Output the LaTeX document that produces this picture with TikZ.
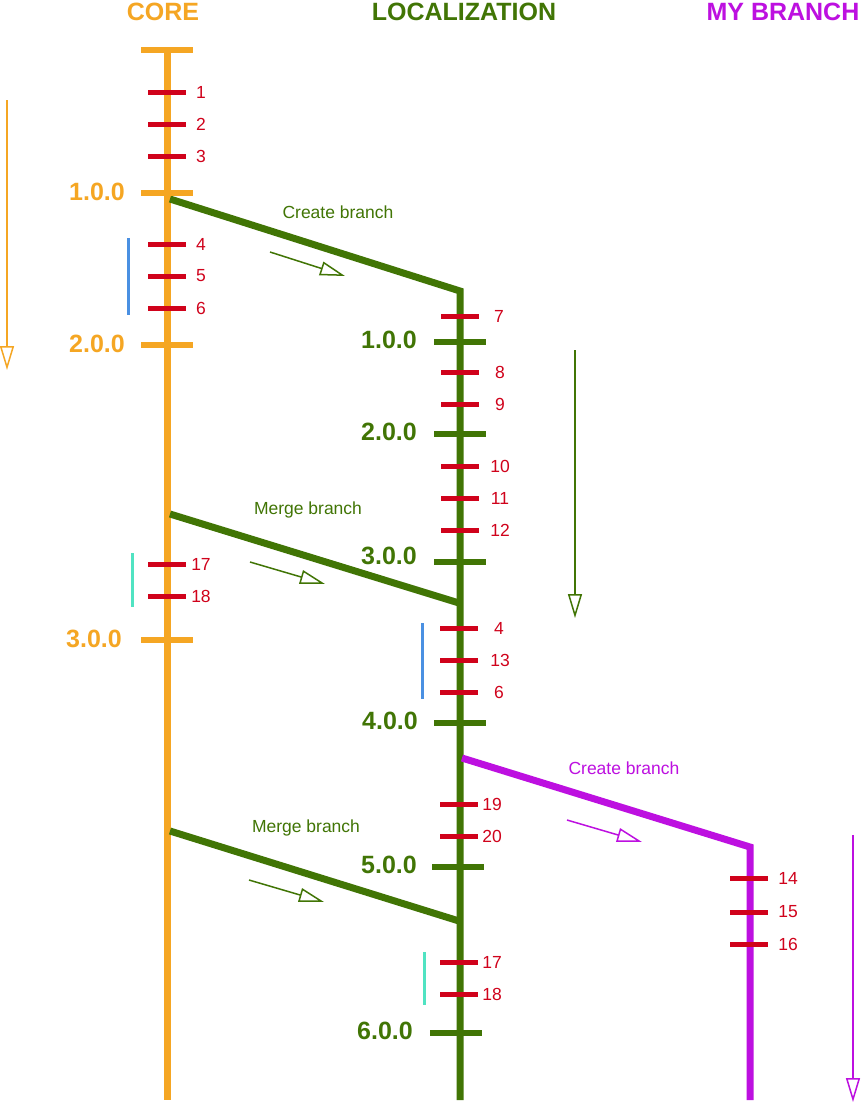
\documentclass[tikz,border=0pt]{standalone}
\usepackage{fontspec}
\setmainfont{Liberation Sans}
\usetikzlibrary{arrows.meta}
\definecolor{corec}{HTML}{F5A623}
\definecolor{locc}{HTML}{417505}
\definecolor{myc}{HTML}{BD10E0}
\definecolor{commitc}{HTML}{D0021B}
\definecolor{bluec}{HTML}{4A90E2}
\definecolor{tealc}{HTML}{50E3C2}
\tikzset{
  trunk/.style={line width=7pt},
  commit/.style={rectangle,fill=commitc,minimum width=38pt,minimum height=5pt,inner sep=0pt},
  rel/.style={rectangle,minimum width=52pt,minimum height=6pt,inner sep=0pt},
  num/.style={text=commitc,font=\fontsize{17.5}{20}\selectfont,inner sep=0pt},
  ver/.style={font=\fontsize{25}{28}\selectfont\bfseries,inner sep=0pt,anchor=east},
  ttl/.style={font=\fontsize{25}{30}\selectfont\bfseries,inner sep=0pt},
  note/.style={font=\fontsize{17.5}{20}\selectfont,inner sep=0pt},
  flow/.style={line width=1.5pt,-{Triangle[open,length=24pt,width=14pt]}},
  sflow/.style={line width=1.5pt,-{Triangle[open,length=25pt,width=14pt]}},
  bar/.style={line width=3pt},
}
\begin{document}
\begin{tikzpicture}[x=1pt,y=-1pt]
\path[fill=white] (0,0) rectangle (862,1104);
% titles
\node[ttl,text=corec] (tcore) at (163,12) {CORE};
\node[ttl,text=locc] (tloc) at (464,12) {LOCALIZATION};
\node[ttl,text=myc] (tmy) at (783,12) {MY BRANCH};
% coordinates
\coordinate (coreTop) at (167,50);
\coordinate (coreBot) at (167,1100);
\coordinate (cb1s) at (170,199);
\coordinate (locTop) at (460,291);
\coordinate (locBot) at (460,1100);
\coordinate (m1s) at (170,514);
\coordinate (m1e) at (459,603);
\coordinate (m2s) at (170,831);
\coordinate (m2e) at (459,921);
\coordinate (pbs) at (462,758);
\coordinate (pTop) at (750,847);
\coordinate (pBot) at (750,1100);
% trunks
\draw[trunk,corec] (coreTop) -- (coreBot);
\draw[trunk,locc,line join=miter] (cb1s) -- (locTop) -- (locBot);
\draw[trunk,locc] (m1s) -- (m1e);
\draw[trunk,locc] (m2s) -- (m2e);
\draw[trunk,myc,line join=miter] (pbs) -- (pTop) -- (pBot);
% core ticks
\node[rel,fill=corec] (cr0) at (167,50) {};
\node[commit] (c1) at (167,92) {};
\node[commit] (c2) at (167,124) {};
\node[commit] (c3) at (167,156) {};
\node[rel,fill=corec] (cr1) at (167,193) {};
\node[commit] (c4) at (167,244) {};
\node[commit] (c5) at (167,276) {};
\node[commit] (c6) at (167,308) {};
\node[rel,fill=corec] (cr2) at (167,345) {};
\node[commit] (c17) at (167,564) {};
\node[commit] (c18) at (167,596) {};
\node[rel,fill=corec] (cr3) at (167,640) {};
\node[num] (n1) at (201,92) {1};
\node[num] (n2) at (201,124) {2};
\node[num] (n3) at (201,156) {3};
\node[num] (n4) at (201,244) {4};
\node[num] (n5) at (201,276) {5};
\node[num] (n6) at (201,308) {6};
\node[num] (n17) at (201,564) {17};
\node[num] (n18) at (201,596) {18};
\node[ver,text=corec] (v1) at (125,192) {1.0.0};
\node[ver,text=corec] (v2) at (125,344) {2.0.0};
\node[ver,text=corec] (v3) at (122,639) {3.0.0};
% localization ticks
\node[commit] (l7) at (460,316) {};
\node[rel,fill=locc] (lr1) at (460,342) {};
\node[commit] (l8) at (460,372) {};
\node[commit] (l9) at (460,404) {};
\node[rel,fill=locc] (lr2) at (460,434) {};
\node[commit] (l10) at (460,466) {};
\node[commit] (l11) at (460,498) {};
\node[commit] (l12) at (460,530) {};
\node[rel,fill=locc] (lr3) at (460,562) {};
\node[commit] (l4) at (459,628) {};
\node[commit] (l13) at (459,660) {};
\node[commit] (l6) at (459,692) {};
\node[rel,fill=locc] (lr4) at (460,723) {};
\node[commit] (l19) at (459,804) {};
\node[commit] (l20) at (459,836) {};
\node[rel,fill=locc] (lr5) at (458,867) {};
\node[commit] (l17) at (459,962) {};
\node[commit] (l18) at (459,994) {};
\node[rel,fill=locc] (lr6) at (456,1033) {};
\node[num] (ln7) at (499,316) {7};
\node[num] (ln8) at (500,372) {8};
\node[num] (ln9) at (500,404) {9};
\node[num] (ln10) at (500,466) {10};
\node[num] (ln11) at (500,498) {11};
\node[num] (ln12) at (500,530) {12};
\node[num] (ln4) at (499,628) {4};
\node[num] (ln13) at (500,660) {13};
\node[num] (ln6) at (499,692) {6};
\node[num] (ln19) at (492,804) {19};
\node[num] (ln20) at (492,836) {20};
\node[num] (ln17) at (492,962) {17};
\node[num] (ln18) at (492,994) {18};
\node[ver,text=locc] (lv1) at (417,340) {1.0.0};
\node[ver,text=locc] (lv2) at (417,432) {2.0.0};
\node[ver,text=locc] (lv3) at (417,556) {3.0.0};
\node[ver,text=locc] (lv4) at (418,721) {4.0.0};
\node[ver,text=locc] (lv5) at (417,865) {5.0.0};
\node[ver,text=locc] (lv6) at (413,1031) {6.0.0};
% my branch ticks
\node[commit] (p14) at (749,878) {};
\node[commit] (p15) at (749,912) {};
\node[commit] (p16) at (749,944) {};
\node[num] (pn14) at (788,878) {14};
\node[num] (pn15) at (788,912) {15};
\node[num] (pn16) at (788,944) {16};
% branch notes
\node[note,text=locc] (nb1) at (338,212) {Create branch};
\node[note,text=locc] (nb2) at (308,510) {Merge branch};
\node[note,text=locc] (nb3) at (306,828) {Merge branch};
\node[note,text=myc] (nb4) at (624,768) {Create branch};
% small direction arrows
\coordinate (a1s) at (270,252); \coordinate (a1e) at (345,276);
\coordinate (a2s) at (250,562); \coordinate (a2e) at (325,584);
\coordinate (a3s) at (249,880); \coordinate (a3e) at (324,902);
\coordinate (a4s) at (567,820); \coordinate (a4e) at (642,842);
\draw[sflow,locc] (a1s) -- (a1e);
\draw[sflow,locc] (a2s) -- (a2e);
\draw[sflow,locc] (a3s) -- (a3e);
\draw[sflow,myc] (a4s) -- (a4e);
% long time arrows
\coordinate (f1s) at (7,100); \coordinate (f1e) at (7,370);
\coordinate (f2s) at (575,350); \coordinate (f2e) at (575,618);
\coordinate (f3s) at (853,835); \coordinate (f3e) at (853,1102);
\draw[flow,corec] (f1s) -- (f1e);
\draw[flow,locc] (f2s) -- (f2e);
\draw[flow,myc] (f3s) -- (f3e);
% group bars
\coordinate (b1s) at (128,238); \coordinate (b1e) at (128,315);
\coordinate (b2s) at (132,553); \coordinate (b2e) at (132,607);
\coordinate (b3s) at (422,623); \coordinate (b3e) at (422,699);
\coordinate (b4s) at (424,952); \coordinate (b4e) at (424,1005);
\draw[bar,bluec] (b1s) -- (b1e);
\draw[bar,tealc] (b2s) -- (b2e);
\draw[bar,bluec] (b3s) -- (b3e);
\draw[bar,tealc] (b4s) -- (b4e);
\end{tikzpicture}
\end{document}
